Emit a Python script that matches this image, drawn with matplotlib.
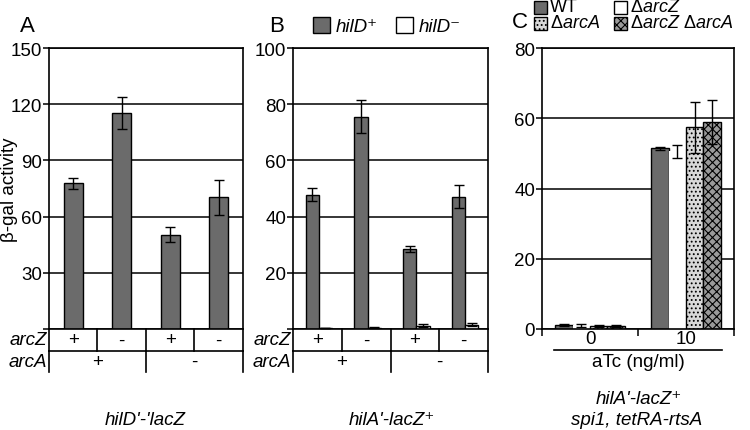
import numpy as np
import matplotlib
matplotlib.use("Agg")
import matplotlib.pyplot as plt
from matplotlib.patches import Rectangle

plt.rcParams['font.family'] = ['Liberation Sans', 'DejaVu Sans']
plt.rcParams['font.size'] = 13.5
plt.rcParams['hatch.linewidth'] = 0.8
plt.rcParams['mathtext.fontset'] = 'custom'
plt.rcParams['mathtext.it'] = 'Liberation Sans:italic'
plt.rcParams['mathtext.rm'] = 'Liberation Sans'

# panel A: hilD'-'lacZ
a_vals = [77.8, 115.3, 50.3, 70.3]
a_err = [3.0, 8.3, 4.0, 9.5]

# panel B: hilA'-lacZ+, hilD+ / hilD-
b_plus = [47.8, 75.6, 28.5, 47.1]
b_plus_err = [2.4, 6.0, 1.0, 4.0]
b_minus = [0.3, 0.5, 1.2, 1.5]
b_minus_err = [0.1, 0.2, 0.5, 0.6]

arcZ_labels = ['+', '-', '+', '-']
arcA_labels = ['+', '-']

# panel C: aTc induction
c_doses = ['0', '10']
c_wt = [1.2, 51.4]
c_wt_err = [0.3, 0.3]
c_arcZ = [1.0, 50.6]
c_arcZ_err = [0.4, 1.8]
c_arcA = [0.8, 57.4]
c_arcA_err = [0.2, 7.2]
c_arcZA = [0.9, 59.0]
c_arcZA_err = [0.3, 6.3]
c_names = ['WT', 'Δ$\\it{arcZ}$', 'Δ$\\it{arcA}$', 'Δ$\\it{arcZ}$ Δ$\\it{arcA}$']

GRAY = '#6b6b6b'
FS = 13.5
W, H = 750, 431

fig = plt.figure(figsize=(7.5, 4.31), dpi=100)


def px_axes(left, right, top, bottom):
    return fig.add_axes([left / W, 1 - bottom / H, (right - left) / W, (bottom - top) / H])


def style_axes(ax, ymin_label, ymax, step):
    ax.set_ylim(0, ymax)
    ax.yaxis.grid(True, color='black', linewidth=1.1)
    ax.set_yticks(np.arange(0, ymax + 1, step))
    ax.set_yticklabels([str(v) if v >= ymin_label else '' for v in range(0, ymax + 1, step)])
    ax.set_axisbelow(True)
    for s in ax.spines.values():
        s.set_linewidth(1.2)
    ax.tick_params(axis='y', direction='out', length=4, width=1.1, labelsize=FS, pad=1)


def gene_table(ax):
    tr = ax.get_xaxis_transform()
    h1, h2 = -0.077, -0.154
    kw = dict(transform=tr, color='black', lw=1.2, clip_on=False)
    ax.plot([0, 4], [h1, h1], **kw)
    for x in range(5):
        ax.plot([x, x], [0, h1], **kw)
    for x in [0, 2, 4]:
        ax.plot([x, x], [h1, h2], **kw)
    for i, s in enumerate(arcZ_labels):
        ax.text(i + 0.5, h1 / 2, s, transform=tr, ha='center', va='center', fontsize=FS)
    for i, s in enumerate(arcA_labels):
        ax.text(2 * i + 1, (h1 + h2) / 2, s, transform=tr, ha='center', va='center', fontsize=FS)
    ax.text(-0.012, h1 / 2, 'arcZ', transform=ax.transAxes, ha='right', va='center',
            style='italic', fontsize=FS)
    ax.text(-0.012, (h1 + h2) / 2, 'arcA', transform=ax.transAxes, ha='right', va='center',
            style='italic', fontsize=FS)


def legend_item(xpx, ypx, label, size=13, **patch_kw):
    fig.add_artist(Rectangle((xpx / W, 1 - (ypx + size / 2) / H), size / W, size / H,
                             transform=fig.transFigure, edgecolor='black', linewidth=1,
                             **patch_kw))
    fig.text((xpx + size + 3) / W, 1 - ypx / H, label, ha='left', va='center', fontsize=13)


ekw = dict(ecolor='black', capsize=3.5, error_kw=dict(elinewidth=1, capthick=1))

# ---- A
axA = px_axes(49, 243, 49, 330)
x = np.arange(4) + 0.5
axA.bar(x, a_vals, 0.4, yerr=a_err, color=GRAY, edgecolor='black', linewidth=1, **ekw)
axA.set_xlim(0, 4)
axA.set_xticks([])
style_axes(axA, 30, 150, 30)
gene_table(axA)
fig.text(27 / W, 1 - 27 / H, 'A', fontsize=16, ha='center', va='center')
fig.text(145 / W, 1 - 421 / H, "hilD'-'lacZ", style='italic', ha='center', va='center', fontsize=FS)
fig.text(10 / W, 1 - 190 / H, 'β-gal activity', rotation=90, ha='center', va='center', fontsize=FS)

# ---- B
axB = px_axes(293, 488, 49, 330)
x = np.arange(4)
axB.bar(x + 0.395, b_plus, 0.27, yerr=b_plus_err, color=GRAY, edgecolor='black',
        linewidth=1, label='hilD⁺', **ekw)
axB.bar(x + 0.665, b_minus, 0.27, yerr=b_minus_err, color='white', edgecolor='black',
        linewidth=1, label='hilD⁻', **ekw)
axB.set_xlim(0, 4)
axB.set_xticks([])
style_axes(axB, 20, 100, 20)
gene_table(axB)
axB.legend(ncol=2, loc='center', bbox_to_anchor=(0.48, 1.078), frameon=False,
           handlelength=0.9, handleheight=0.9, handletextpad=0.3, columnspacing=1.0,
           borderpad=0, prop=dict(style='italic', size=FS))
fig.text(277 / W, 1 - 27 / H, 'B', fontsize=16, ha='center', va='center')
fig.text(392 / W, 1 - 421 / H, "hilA'-lacZ⁺", style='italic', ha='center', va='center', fontsize=FS)

# ---- C
axC = px_axes(542, 734, 49, 330)
x = np.arange(2) + 0.5
bw = 0.18
axC.bar(x - 1.5 * bw, c_wt, bw, yerr=c_wt_err, color=GRAY, edgecolor='black', linewidth=1, **ekw)
axC.bar(x - 0.5 * bw, c_arcZ, bw, yerr=c_arcZ_err, color='white', edgecolor='none', **ekw)
axC.bar(x + 0.5 * bw, c_arcA, bw, yerr=c_arcA_err, color='#d9d9d9', edgecolor='black',
        hatch='....', linewidth=1, **ekw)
axC.bar(x + 1.5 * bw, c_arcZA, bw, yerr=c_arcZA_err, color='#9a9a9a', edgecolor='black',
        hatch='xxxx', linewidth=1, **ekw)
axC.set_xlim(0, 2)
style_axes(axC, 0, 80, 20)
axC.set_xticks([0, 1, 2])
axC.set_xticklabels([])
axC.set_xticks(x, minor=True)
axC.set_xticklabels(c_doses, minor=True)
axC.tick_params(axis='x', which='major', direction='out', length=5, width=1.1)
axC.tick_params(axis='x', which='minor', length=0, labelsize=FS, pad=1)
axC.plot([0.12, 1.88], [-0.075, -0.075], transform=axC.get_xaxis_transform(), color='black',
         lw=1.2, clip_on=False)
axC.text(1.0, -0.115, 'aTc (ng/ml)', transform=axC.get_xaxis_transform(), ha='center',
         va='center', fontsize=FS)

legend_item(534, 8, c_names[0], facecolor=GRAY)
legend_item(614, 8, c_names[1], facecolor='white')
legend_item(534, 24, c_names[2], facecolor='#d9d9d9', hatch='....')
legend_item(614, 24, c_names[3], facecolor='#9a9a9a', hatch='xxxx')
fig.text(520 / W, 1 - 23 / H, 'C', fontsize=16, ha='center', va='center')
fig.text(639 / W, 1 - 400 / H, "hilA'-lacZ⁺", style='italic', ha='center', va='center', fontsize=FS)
fig.text(637 / W, 1 - 421 / H, "spi1, tetRA-rtsA", style='italic', ha='center', va='center', fontsize=FS)

fig.savefig('out.png', dpi=100)
